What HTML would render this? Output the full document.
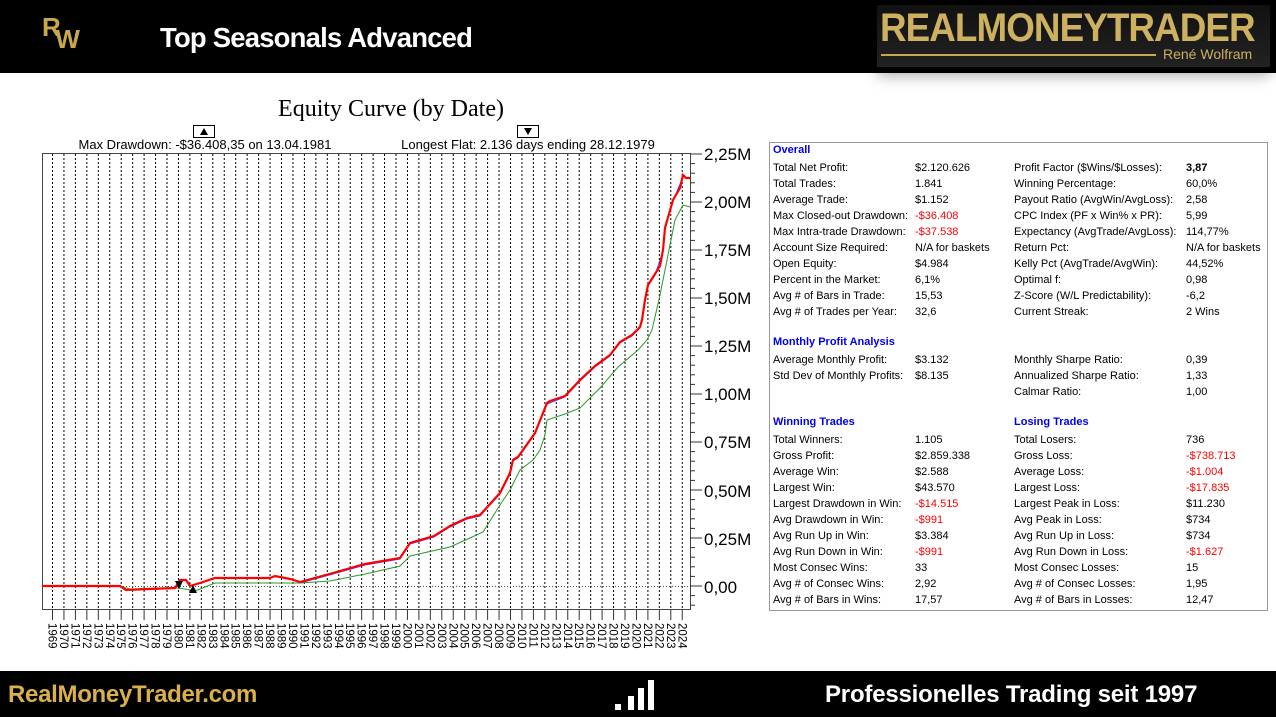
<!DOCTYPE html>
<html><head><meta charset="utf-8"><style>
body{margin:0;width:1276px;height:717px;background:#fff;position:relative;overflow:hidden;font-family:"Liberation Sans",sans-serif}
.hdr{position:absolute;left:0;top:0;width:1276px;height:73px;background:#000}
.ftr{position:absolute;left:0;top:671px;width:1276px;height:46px;background:#000}
.abs{position:absolute;white-space:nowrap}
.st{position:absolute;font-size:11px;color:#000;white-space:nowrap;line-height:13px}
.h{color:#0000ee;font-weight:bold}
.r{color:#f00}
</style></head><body>
<div class="hdr"></div>
<div class="abs" style="left:42px;top:12px;color:#c9a84c;font-size:26px;font-weight:bold;letter-spacing:-5px">R<span style="position:relative;top:12px">W</span></div>
<div class="abs" style="left:160px;top:22px;color:#fff;font-size:28px;font-weight:bold;letter-spacing:-0.8px;transform:scaleX(0.98);transform-origin:left">Top Seasonals Advanced</div>
<div class="abs" style="left:877px;top:5px;width:393px;height:62px;background:linear-gradient(#111,#222);box-shadow:0 8px 14px rgba(0,0,0,0.35)"></div>
<div class="abs" style="left:880px;top:6px;color:#cdb060;font-size:40px;font-weight:bold;letter-spacing:-1px;transform:scaleX(0.92);transform-origin:left">REALMONEYTRADER</div>
<div class="abs" style="left:881px;top:54px;width:275px;height:2px;background:#c9a84c"></div>
<div class="abs" style="left:1163px;top:46px;color:#cdb060;font-size:14px">René Wolfram</div>

<svg class="abs" style="left:0;top:0" width="1276" height="717">
<text x="391" y="116" font-family="Liberation Serif,serif" font-size="24" text-anchor="middle">Equity Curve (by Date)</text>
<rect x="193.5" y="125.5" width="21" height="12" fill="#fff" stroke="#000"/><path d="M200 135 L204 128 L208 135Z"/>
<rect x="517.5" y="125.5" width="21" height="12" fill="#fff" stroke="#000"/><path d="M524 128 L528 135 L532 128Z"/>
<text x="205" y="149" font-size="13" text-anchor="middle">Max Drawdown: -$36.408,35 on 13.04.1981</text>
<text x="528" y="149" font-size="13" text-anchor="middle">Longest Flat: 2.136 days ending 28.12.1979</text>
<g id="grid" stroke="#000" stroke-dasharray="2,2" stroke-width="1"></g>
<line x1="42" y1="586.5" x2="690" y2="586.5" stroke="#555" stroke-dasharray="1,2"/>
<rect x="42.5" y="153.5" width="648" height="456" fill="none" stroke="#444"/>
<g id="yt" stroke="#333"></g>
<g font-size="17" fill="#000">
<text x="704" y="160">2,25M</text><text x="704" y="208">2,00M</text><text x="704" y="256">1,75M</text><text x="704" y="304">1,50M</text><text x="704" y="352">1,25M</text><text x="704" y="400">1,00M</text><text x="704" y="448">0,75M</text><text x="704" y="497">0,50M</text><text x="704" y="545">0,25M</text><text x="704" y="593">0,00</text>
</g>
<g id="xl" font-size="11.5"></g>
<polyline fill="none" stroke="#2a9a2a" stroke-width="1" points="42,586 120,586 130,589 160,588 178,588 185,589 195,591 205,587 215,583 260,583 300,583 330,581 370,573 400,566 410,556 450,547 470,538 483,532 500,505 510,490 520,470 533,460 540,450 545,435 547,420 565,414 580,408 600,388 618,367 638,350 647,340 652,330 660,295 668,255 675,220 683,205 690,207"/>
<polyline fill="none" stroke="#3344ff" stroke-width="1" points="300,583 333,574 365,565 400,559 410,544 434,537 450,527 467,519 480,516 500,494 510,474 513,461 518,458 535,434 547,404 565,397 580,381 595,367 610,356 620,343 632,336 640,328 645,301 648,286 655,275 663,251 665,229 673,201 683,177"/>
<polyline fill="none" stroke="#f00" stroke-width="2.2" points="42,586 120,586 126,590 150,589 175,588 180,580 186,580 190,586 200,583 215,578 270,578 275,576 290,579 300,582 333,573 365,564 400,558 410,543 434,536 450,526 467,518 480,515 500,493 510,473 513,460 518,457 535,433 547,403 550,401 565,396 580,380 595,366 610,355 620,342 632,335 640,327 642,320 645,300 648,285 655,274 660,266 663,250 665,228 673,200 680,188 683,175 686,178 690,178"/>
<path d="M175 581 L183 581 L179 589Z"/><path d="M189 593 L197 593 L193 585Z"/>
<rect x="769.5" y="142.5" width="498" height="468" fill="none" stroke="#999"/>
</svg>
<script>
var g=document.getElementById('grid'),xl=document.getElementById('xl'),yt=document.getElementById('yt'),ns='http://www.w3.org/2000/svg';
for(var i=0;i<56;i++){var x=52.5+i*11.45;
var l=document.createElementNS(ns,'line');l.setAttribute('x1',x);l.setAttribute('x2',x);l.setAttribute('y1',154);l.setAttribute('y2',609);g.appendChild(l);
var t=document.createElementNS(ns,'line');t.setAttribute('x1',x);t.setAttribute('x2',x);t.setAttribute('y1',610);t.setAttribute('y2',620);t.setAttribute('stroke','#333');xl.appendChild(t);
var tx=document.createElementNS(ns,'text');tx.setAttribute('transform','translate('+(x-4)+',623) rotate(90)');tx.textContent=1969+i;xl.appendChild(tx);}
for(var j=0;j<=47;j++){var y=154+j*9.6;if(y>609)break;var m=(j%5==0);
var k=document.createElementNS(ns,'line');k.setAttribute('x1',690);k.setAttribute('x2',m?702:695);k.setAttribute('y1',y);k.setAttribute('y2',y);yt.appendChild(k);}
</script>
<div class="st h" style="left:773px;top:144px">Overall</div>
<div class="st" style="left:773px;top:160px;line-height:16px">Total Net Profit:<br>Total Trades:<br>Average Trade:<br>Max Closed-out Drawdown:<br>Max Intra-trade Drawdown:<br>Account Size Required:<br>Open Equity:<br>Percent in the Market:<br>Avg # of Bars in Trade:<br>Avg # of Trades per Year:</div>
<div class="st" style="left:915px;top:160px;line-height:16px">$2.120.626<br>1.841<br>$1.152<br><span class="r">-$36.408</span><br><span class="r">-$37.538</span><br>N/A for baskets<br>$4.984<br>6,1%<br>15,53<br>32,6</div>
<div class="st" style="left:1014px;top:160px;line-height:16px">Profit Factor ($Wins/$Losses):<br>Winning Percentage:<br>Payout Ratio (AvgWin/AvgLoss):<br>CPC Index (PF x Win% x PR):<br>Expectancy (AvgTrade/AvgLoss):<br>Return Pct:<br>Kelly Pct (AvgTrade/AvgWin):<br>Optimal f:<br>Z-Score (W/L Predictability):<br>Current Streak:</div>
<div class="st" style="left:1186px;top:160px;line-height:16px"><b>3,87</b><br>60,0%<br>2,58<br>5,99<br>114,77%<br>N/A for baskets<br>44,52%<br>0,98<br>-6,2<br>2 Wins</div>
<div class="st h" style="left:773px;top:336px">Monthly Profit Analysis</div>
<div class="st" style="left:773px;top:352px;line-height:16px">Average Monthly Profit:<br>Std Dev of Monthly Profits:</div>
<div class="st" style="left:915px;top:352px;line-height:16px">$3.132<br>$8.135</div>
<div class="st" style="left:1014px;top:352px;line-height:16px">Monthly Sharpe Ratio:<br>Annualized Sharpe Ratio:<br>Calmar Ratio:</div>
<div class="st" style="left:1186px;top:352px;line-height:16px">0,39<br>1,33<br>1,00</div>
<div class="st h" style="left:773px;top:416px">Winning Trades</div>
<div class="st h" style="left:1014px;top:416px">Losing Trades</div>
<div class="st" style="left:773px;top:432px;line-height:16px">Total Winners:<br>Gross Profit:<br>Average Win:<br>Largest Win:<br>Largest Drawdown in Win:<br>Avg Drawdown in Win:<br>Avg Run Up in Win:<br>Avg Run Down in Win:<br>Most Consec Wins:<br>Avg # of Consec Wins:<br>Avg # of Bars in Wins:</div>
<div class="st" style="left:915px;top:432px;line-height:16px">1.105<br>$2.859.338<br>$2.588<br>$43.570<br><span class="r">-$14.515</span><br><span class="r">-$991</span><br>$3.384<br><span class="r">-$991</span><br>33<br>2,92<br>17,57</div>
<div class="st" style="left:1014px;top:432px;line-height:16px">Total Losers:<br>Gross Loss:<br>Average Loss:<br>Largest Loss:<br>Largest Peak in Loss:<br>Avg Peak in Loss:<br>Avg Run Up in Loss:<br>Avg Run Down in Loss:<br>Most Consec Losses:<br>Avg # of Consec Losses:<br>Avg # of Bars in Losses:</div>
<div class="st" style="left:1186px;top:432px;line-height:16px">736<br><span class="r">-$738.713</span><br><span class="r">-$1.004</span><br><span class="r">-$17.835</span><br>$11.230<br>$734<br>$734<br><span class="r">-$1.627</span><br>15<br>1,95<br>12,47</div>

<div class="ftr"></div>
<svg class="abs" style="left:0;top:0" width="1276" height="717"><g fill="#fff"><rect x="615" y="704" width="6" height="6"/><rect x="628" y="696" width="6" height="14"/><rect x="638" y="688" width="6" height="22"/><rect x="648" y="680" width="6" height="30"/></g></svg>
<div class="abs" style="left:8px;top:681px;color:#d9b04a;font-size:24px;font-weight:bold;letter-spacing:-0.3px">RealMoneyTrader.com</div>
<div class="abs" style="left:825px;top:681px;color:#fff;font-size:24px;font-weight:bold;letter-spacing:-0.2px">Professionelles Trading seit 1997</div>
</body></html>
